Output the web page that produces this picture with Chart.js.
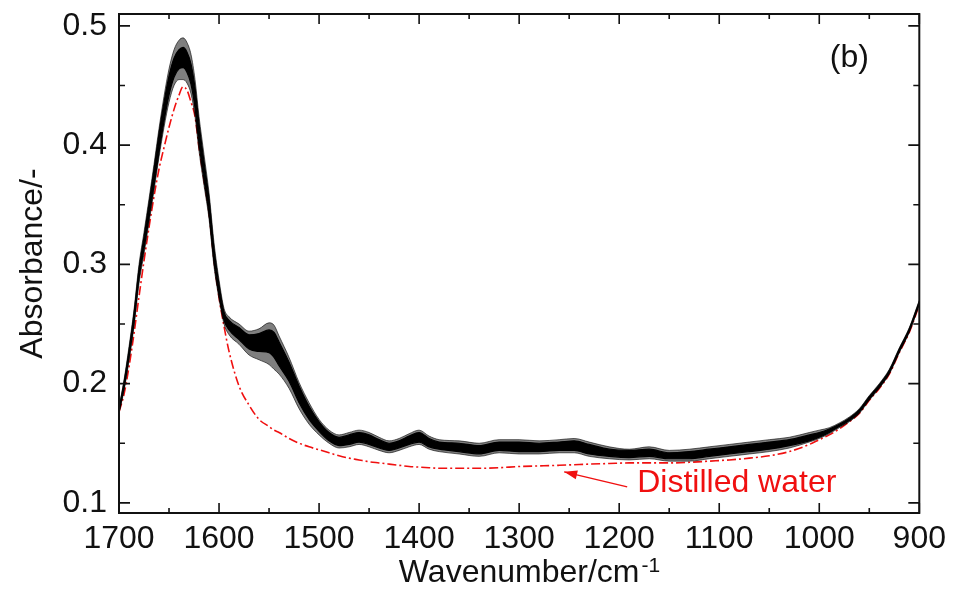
<!DOCTYPE html>
<html>
<head>
<meta charset="utf-8">
<script src="https://cdn.jsdelivr.net/npm/chart.js@4.4.1/dist/chart.umd.min.js"></script>
<style>
  html, body { margin: 0; padding: 0; background: #fff; }
  #wrap { width: 953px; height: 599px; }
</style>
</head>
<body>
<div id="wrap"><canvas id="spectra" width="953" height="599"></canvas></div>
<script>
// wavenumber grid (cm-1) from left to right
const wavenumbers = [
  1700, 1695, 1690, 1685, 1680, 1675, 1670, 1665, 1660, 1655, 1650, 1645, 1640,
  1636, 1632, 1628, 1624,
  1620, 1615, 1610, 1605, 1600, 1595, 1590,
  1580, 1570, 1560, 1550,
  1545, 1540,
  1530, 1520, 1510, 1500, 1490, 1480, 1470, 1460, 1450, 1440, 1430, 1420, 1410, 1400, 1390, 1380,
  1360, 1340, 1320, 1300, 1280, 1260,
  1245, 1230, 1210, 1190, 1170, 1150, 1130, 1110, 1090, 1070, 1050, 1030, 1010,
  1000, 990, 980, 970, 960, 950, 940, 930, 920, 910, 900
];

// the bundle of sample spectra: outer edges (faint lines) and the dense core
const bandTopOuter = [
  .180, .203, .231, .262, .300, .327, .355, .384, .414, .441, .464, .480, .488,
  .490, .486, .476, .455,
  .424, .392, .360, .318, .287, .263, .256,
  .250, .244, .246, .251,
  .249, .240,
  .222, .201, .184, .170, .161, .157, .159, .161, .159, .155, .152, .154, .158, .161, .156, .153,
  .152, .150, .153, .153, .152, .153,
  .154, .151, .147, .145, .147, .144, .145, .147, .149, .151, .153, .155, .159,
  .161, .163, .167, .172, .179, .190, .200, .212, .230, .247, .270
];
const bandTopCore = [
  .179, .201, .228, .259, .296, .323, .351, .380, .410, .436, .458, .473, .480,
  .482, .478, .468, .448,
  .418, .386, .355, .313, .283, .260, .253,
  .247, .241, .242, .245,
  .243, .235,
  .218, .198, .181, .168, .159, .155, .157, .159, .157, .153, .150, .152, .156, .159, .154, .151,
  .150, .148, .151, .151, .150, .151,
  .152, .149, .145, .144, .145, .142, .143, .145, .147, .149, .151, .153, .157,
  .159, .162, .166, .171, .178, .189, .199, .211, .229, .246, .269
];
const bandLowCore = [
  .176, .196, .222, .251, .288, .313, .339, .366, .394, .420, .442, .457, .464,
  .465, .461, .451, .431,
  .401, .371, .342, .302, .274, .253, .245,
  .237, .229, .227, .226,
  .222, .215,
  .202, .184, .170, .160, .152, .148, .149, .151, .149, .146, .144, .146, .149, .151, .147, .145,
  .143, .141, .144, .143, .143, .144,
  .144, .141, .139, .138, .139, .137, .137, .139, .141, .143, .145, .148, .152,
  .155, .159, .164, .169, .176, .187, .197, .209, .227, .244, .267
];
const bandLowOuter = [
  .175, .194, .219, .248, .284, .309, .335, .362, .390, .415, .436, .450, .455,
  .455, .452, .443, .424,
  .395, .366, .338, .298, .271, .250, .241,
  .233, .224, .220, .216,
  .212, .208,
  .196, .179, .166, .157, .150, .146, .147, .149, .147, .144, .142, .144, .147, .149, .145, .143,
  .141, .139, .142, .141, .141, .142,
  .142, .139, .137, .136, .137, .135, .135, .137, .139, .141, .143, .146, .151,
  .154, .158, .163, .168, .175, .186, .196, .208, .226, .243, .266
];

// distilled water reference spectrum (red dash-dot)
const distilledWater = [
  .176, .191, .214, .242, .273, .303, .331, .357, .380, .398, .415, .430, .442,
  .449, .446, .436, .424,
  .398, .370, .343, .303, .272, .248, .227,
  .198, .182, .170, .164,
  .161, .159,
  .154, .150, .147, .1445, .142, .1395, .1375, .136, .1345, .1335, .1325, .1315, .1305, .130, .1295, .129,
  .129, .129, .1295, .1305, .131, .1315,
  .132, .1325, .133, .1335, .1335, .1335, .134, .135, .136, .1375, .1395, .143, .149,
  .153, .157, .162, .168, .175, .186, .196, .208, .226, .243, .266
];

const xTicks = [1700, 1600, 1500, 1400, 1300, 1200, 1100, 1000, 900];
const xMinor = [1650, 1550, 1450, 1350, 1250, 1150, 1050, 950];
const yTicks = [0.1, 0.2, 0.3, 0.4, 0.5];
const yMinor = [0.15, 0.25, 0.35, 0.45];

const FONT = '"Liberation Sans", Arial, Helvetica, sans-serif';

function pts(values) {
  return wavenumbers.map((w, i) => ({ x: w, y: values[i] }));
}

// frame, inward ticks, axis titles and the annotations
const decorations = {
  id: 'decorations',
  afterDraw(chart) {
    const { ctx, chartArea: a, scales: { x, y } } = chart;
    ctx.save();
    ctx.strokeStyle = '#111';
    ctx.lineWidth = 2;
    ctx.strokeRect(a.left, a.top, a.right - a.left, a.bottom - a.top);

    ctx.lineWidth = 1.6;
    ctx.beginPath();
    const xTick = (v, len) => {
      const px = x.getPixelForValue(v);
      ctx.moveTo(px, a.bottom); ctx.lineTo(px, a.bottom - len);
      ctx.moveTo(px, a.top); ctx.lineTo(px, a.top + len);
    };
    const yTick = (v, len) => {
      const py = y.getPixelForValue(v);
      ctx.moveTo(a.left, py); ctx.lineTo(a.left + len, py);
      ctx.moveTo(a.right, py); ctx.lineTo(a.right - len, py);
    };
    xTicks.forEach(v => xTick(v, 10));
    xMinor.forEach(v => xTick(v, 5));
    yTicks.forEach(v => yTick(v, 11));
    yMinor.forEach(v => yTick(v, 6));
    ctx.stroke();

    // axis titles
    ctx.fillStyle = '#111';
    ctx.font = '32px ' + FONT;
    ctx.textBaseline = 'alphabetic';
    const main = 'Wavenumber/cm';
    const w1 = ctx.measureText(main).width;
    const cx = (a.left + a.right) / 2;
    const startX = cx - w1 / 2;
    ctx.textAlign = 'left';
    ctx.fillText(main, startX, 582);
    ctx.font = '21px ' + FONT;
    ctx.fillText('-1', startX + w1 + 2, 572);

    ctx.save();
    ctx.translate(33, (a.top + a.bottom) / 2);
    ctx.rotate(-Math.PI / 2);
    ctx.font = '32px ' + FONT;
    ctx.textAlign = 'center';
    ctx.textBaseline = 'middle';
    ctx.fillText('Absorbance/-', 0, 0);
    ctx.restore();

    // panel letter
    ctx.font = '32px ' + FONT;
    ctx.textAlign = 'center';
    ctx.textBaseline = 'middle';
    ctx.fillText('(b)', x.getPixelForValue(970), y.getPixelForValue(0.473));

    // arrow + label for the water curve
    const red = '#f01010';
    const fx = x.getPixelForValue(1192), fy = y.getPixelForValue(0.1134);
    const tx = x.getPixelForValue(1255), ty = y.getPixelForValue(0.126);
    ctx.strokeStyle = red;
    ctx.fillStyle = red;
    ctx.lineWidth = 1.5;
    ctx.beginPath();
    ctx.moveTo(fx, fy);
    ctx.lineTo(tx, ty);
    ctx.stroke();
    const ang = Math.atan2(ty - fy, tx - fx);
    const hl = 13, hw = 4.5;
    ctx.beginPath();
    ctx.moveTo(tx, ty);
    ctx.lineTo(tx - hl * Math.cos(ang) + hw * Math.sin(ang), ty - hl * Math.sin(ang) - hw * Math.cos(ang));
    ctx.lineTo(tx - hl * Math.cos(ang) - hw * Math.sin(ang), ty - hl * Math.sin(ang) + hw * Math.cos(ang));
    ctx.closePath();
    ctx.fill();

    ctx.font = '32px ' + FONT;
    ctx.textAlign = 'left';
    ctx.textBaseline = 'alphabetic';
    ctx.fillText('Distilled water', x.getPixelForValue(1182), y.getPixelForValue(0.109));
    ctx.restore();
  }
};

const ctx = document.getElementById('spectra').getContext('2d');
const chart = new Chart(ctx, {
  type: 'line',
  data: {
    datasets: [
      {
        label: 'core top',
        data: pts(bandTopCore),
        borderColor: '#000',
        borderWidth: 1.2,
        backgroundColor: '#000',
        fill: '+1',
        order: 0
      },
      {
        label: 'core low',
        data: pts(bandLowCore),
        borderColor: '#000',
        borderWidth: 1.2,
        fill: false,
        order: 0
      },
      {
        label: 'outer top',
        data: pts(bandTopOuter),
        borderColor: 'rgba(0,0,0,0.6)',
        borderWidth: 1,
        backgroundColor: 'rgba(0,0,0,0.5)',
        fill: '+1',
        order: 1
      },
      {
        label: 'outer low',
        data: pts(bandLowOuter),
        borderColor: 'rgba(0,0,0,0.6)',
        borderWidth: 1,
        fill: false,
        order: 1
      },
      {
        label: 'Distilled water',
        data: pts(distilledWater),
        borderColor: '#f01010',
        borderWidth: 1.6,
        borderDash: [9, 3, 2, 3],
        fill: false,
        order: 2
      }
    ]
  },
  options: {
    responsive: false,
    animation: false,
    devicePixelRatio: 1,
    events: [],
    elements: {
      point: { radius: 0 },
      line: { cubicInterpolationMode: 'monotone' }
    },
    layout: { padding: { top: 14, right: 32, bottom: 0, left: 0 } },
    plugins: {
      legend: { display: false },
      tooltip: { enabled: false },
      title: { display: false }
    },
    scales: {
      x: {
        type: 'linear',
        min: 900,
        max: 1700,
        reverse: true,
        grid: { display: false, drawTicks: false },
        border: { display: false },
        afterBuildTicks: s => { s.ticks = xTicks.map(v => ({ value: v })); },
        afterFit: s => { s.height = 86; },
        ticks: {
          autoSkip: false,
          maxRotation: 0,
          padding: 7,
          color: '#111',
          font: { family: FONT, size: 32 },
          callback: v => String(v)
        }
      },
      y: {
        type: 'linear',
        min: 0.0915,
        max: 0.51,
        grid: { display: false, drawTicks: false },
        border: { display: false },
        afterBuildTicks: s => { s.ticks = yTicks.map(v => ({ value: v })); },
        afterFit: s => { s.width = 119; },
        ticks: {
          autoSkip: false,
          padding: 12,
          color: '#111',
          font: { family: FONT, size: 32, lineHeight: 0.05 },
          callback: v => v.toFixed(1)
        }
      }
    }
  },
  plugins: [decorations]
});
</script>
</body>
</html>
